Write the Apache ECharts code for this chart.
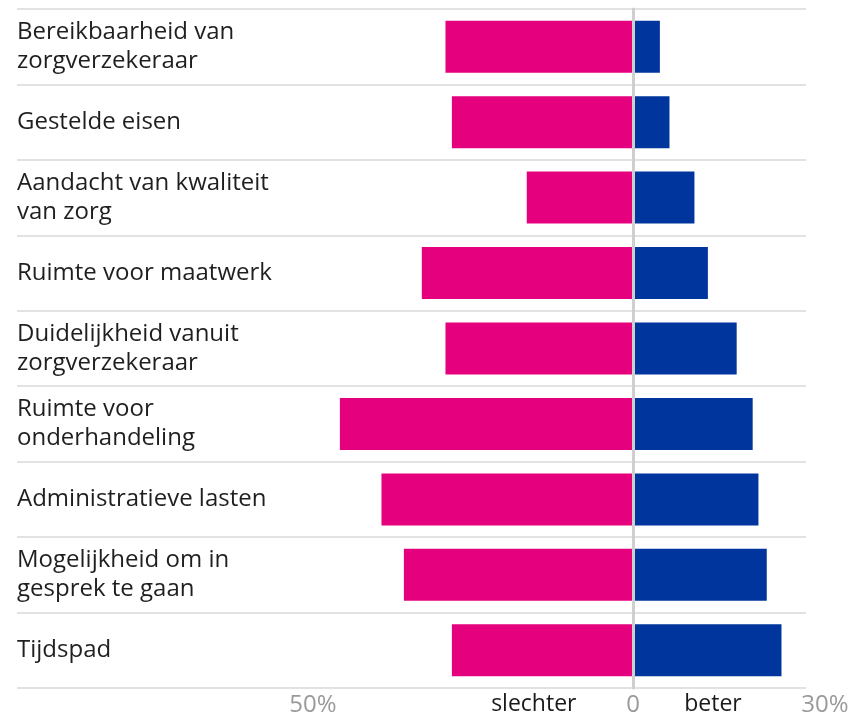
<!DOCTYPE html>
<html><head><meta charset="utf-8">
<script src="https://cdn.jsdelivr.net/npm/echarts@6/dist/echarts.min.js"></script>
<style>html,body{margin:0;padding:0;background:#fff}#c{width:864px;height:718px}</style>
</head><body><div id="c"></div>
<script>
const categories = [
  "Bereikbaarheid van\nzorgverzekeraar",
  "Gestelde eisen",
  "Aandacht van kwaliteit\nvan zorg",
  "Ruimte voor maatwerk",
  "Duidelijkheid vanuit\nzorgverzekeraar",
  "Ruimte voor\nonderhandeling",
  "Administratieve lasten",
  "Mogelijkheid om in\ngesprek te gaan",
  "Tijdspad"
];
const slechter = [-29.3, -28.3, -16.6, -33.0, -29.3, -45.8, -39.3, -35.8, -28.3];
const beter = [4.2, 5.7, 9.6, 11.7, 16.2, 18.7, 19.6, 20.9, 23.2];
const tickValues = [-50, -15.5, 0, 12.5, 30];
const tickLabels = {"-50": "50%", "-15.5": "slechter", "0": "0", "12.5": "beter", "30": "30%"};

const FONT = "'Open Sans', 'Noto Sans', sans-serif";
const chart = echarts.init(document.getElementById('c'));
chart.setOption({
  animation: false,
  grid: [
    {left: 313, right: 39, top: 9, bottom: 30},
    {left: 17, right: 58, top: 9, bottom: 30}
  ],
  xAxis: [
    {gridIndex: 0, type: 'value', min: -50, max: 30,
     axisLine: {show: false}, axisTick: {show: false}, splitLine: {show: false},
     axisLabel: {customValues: tickValues, margin: 5, fontFamily: FONT, fontSize: 24,
       formatter: v => {
         const t = tickLabels[String(v)];
         if (t === undefined) return '';
         return (t === 'slechter' || t === 'beter') ? '{k|' + t + '}' : '{g|' + t + '}';
       },
       rich: {g: {color: '#9a9a9a', fontFamily: FONT, fontSize: 24},
              k: {color: '#1a1a1a', fontFamily: FONT, fontSize: 23}}}},
    {gridIndex: 1, type: 'value', min: 0, max: 1, show: false}
  ],
  yAxis: [
    {gridIndex: 0, type: 'category', data: categories, inverse: true, z: 10,
     axisLine: {show: true, onZero: true, lineStyle: {color: '#cfcfcf', width: 3}},
     axisTick: {show: false}, axisLabel: {show: false}, splitLine: {show: false}},
    {gridIndex: 1, type: 'category', data: categories, inverse: true,
     axisLine: {show: false}, axisTick: {show: false},
     splitLine: {show: true, lineStyle: {color: '#d9d9d9', width: 1.5}},
     axisLabel: {inside: true, margin: 0, align: 'left', color: '#1f1f1f',
       fontFamily: FONT, fontSize: 24, lineHeight: 29, padding: [6, 0, 0, 0]}}
  ],
  series: [
    {type: 'bar', xAxisIndex: 0, yAxisIndex: 0, data: slechter, barWidth: 52, barGap: '-100%',
     itemStyle: {color: '#e5007e'}},
    {type: 'bar', xAxisIndex: 0, yAxisIndex: 0, data: beter, barWidth: 52, barGap: '-100%',
     itemStyle: {color: '#00359d'}}
  ]
});
</script></body></html>
